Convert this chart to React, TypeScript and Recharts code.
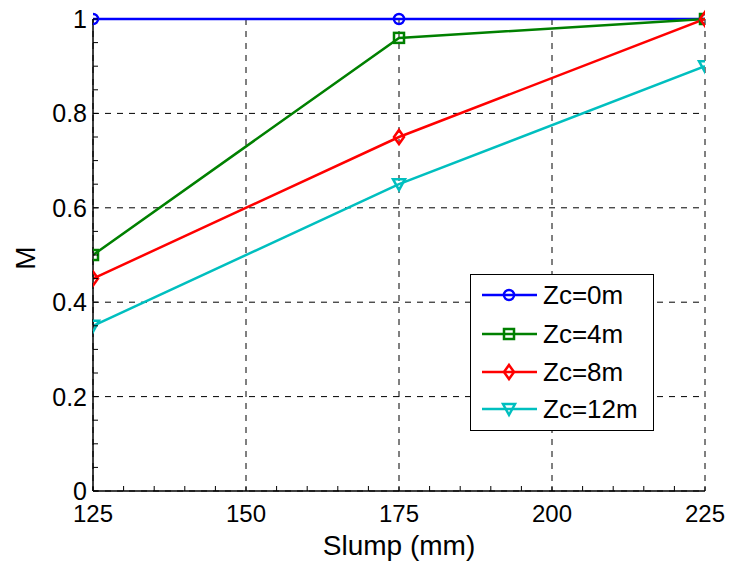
import React from "react";
import {
  LineChart,
  Line,
  XAxis,
  YAxis,
  CartesianGrid,
} from "recharts";

const slump = [125, 175, 225];
const zc0 = [1, 1, 1];
const zc4 = [0.5, 0.96, 1];
const zc8 = [0.45, 0.75, 1];
const zc12 = [0.35, 0.65, 0.9];

const seriesNames = ["Zc=0m", "Zc=4m", "Zc=8m", "Zc=12m"];
const seriesColors = ["#0000ff", "#008000", "#ff0000", "#00bfbf"];
const seriesShapes = ["circle", "square", "diamond", "triangle"];

const xMajor = [125, 150, 175, 200, 225];
const yMajor = [0, 0.2, 0.4, 0.6, 0.8, 1];
const xMinor = Array.from({ length: 21 }, (_, i) => 125 + i * 5);
const yMinor = Array.from({ length: 21 }, (_, i) => Math.round(i * 5) / 100);

const data = slump.map((s, i) => ({
  slump: s,
  zc0: zc0[i],
  zc4: zc4[i],
  zc8: zc8[i],
  zc12: zc12[i],
}));

const keys = ["zc0", "zc4", "zc8", "zc12"];
const FONT = "'Liberation Sans', Arial, sans-serif";

function Marker({ shape, cx, cy, color }: { shape: string; cx: number; cy: number; color: string }) {
  const sw = 2.5;
  if (shape === "circle") {
    return <circle cx={cx} cy={cy} r={5} fill="none" stroke={color} strokeWidth={sw} />;
  }
  if (shape === "square") {
    return <rect x={cx - 5} y={cy - 5} width={10} height={10} fill="none" stroke={color} strokeWidth={sw} />;
  }
  if (shape === "diamond") {
    return (
      <polygon
        points={`${cx},${cy - 7} ${cx + 5},${cy} ${cx},${cy + 7} ${cx - 5},${cy}`}
        fill="none"
        stroke={color}
        strokeWidth={sw}
      />
    );
  }
  return (
    <polygon
      points={`${cx - 6},${cy - 5} ${cx + 6},${cy - 5} ${cx},${cy + 6}`}
      fill="none"
      stroke={color}
      strokeWidth={sw}
    />
  );
}

const fmtY = (v: number) => (v === 0 || v === 1 ? String(v) : v.toFixed(1));
const isMajorX = (v: number) => xMajor.includes(v);
const isMajorY = (v: number) => yMajor.some((m) => Math.abs(m - v) < 1e-9);

const BottomTick = (props: any) => {
  const { x, y, payload } = props;
  const v = payload.value;
  return (
    <g>
      <line x1={x} x2={x} y1={y} y2={y - 5} stroke="#000" strokeWidth={1} />
      {isMajorX(v) && (
        <text x={x} y={y + 31} textAnchor="middle" fontSize={24} fontFamily={FONT} fill="#000">
          {v}
        </text>
      )}
    </g>
  );
};

const TopTick = (props: any) => {
  const { x, y } = props;
  return <line x1={x} x2={x} y1={y} y2={y + 5} stroke="#000" strokeWidth={1} />;
};

const LeftTick = (props: any) => {
  const { x, y, payload } = props;
  const v = payload.value;
  return (
    <g>
      <line x1={x} x2={x + 5} y1={y} y2={y} stroke="#000" strokeWidth={1} />
      {isMajorY(v) && (
        <text x={x - 6} y={y + 9} textAnchor="end" fontSize={25} fontFamily={FONT} fill="#000">
          {fmtY(v)}
        </text>
      )}
    </g>
  );
};

const RightTick = (props: any) => {
  const { x, y } = props;
  return <line x1={x} x2={x - 5} y1={y} y2={y} stroke="#000" strokeWidth={1} />;
};

const LegendBox = () => (
  <svg width={185} height={158} style={{ display: "block" }}>
    <rect x={0.5} y={0.5} width={183} height={156} fill="#fff" stroke="#000" strokeWidth={1} />
    {seriesNames.map((name, i) => {
      const cy = [21, 60, 98, 135][i];
      return (
        <g key={name}>
          <line x1={12} x2={67} y1={cy} y2={cy} stroke={seriesColors[i]} strokeWidth={2.5} />
          <Marker shape={seriesShapes[i]} cx={39} cy={cy} color={seriesColors[i]} />
          <text x={73} y={cy + 9} fontSize={26} fontFamily={FONT} fill="#000">
            {name}
          </text>
        </g>
      );
    })}
  </svg>
);

export default function App() {
  return (
    <div style={{ position: "fixed", left: 0, top: 0, width: 730, height: 565, background: "#fff" }}>
      <LineChart
        width={730}
        height={565}
        data={data}
        margin={{ top: 19, right: 25, bottom: 0, left: 0 }}
        style={{ overflow: "visible" }}
      >
        <CartesianGrid
          xAxisId="b"
          yAxisId="l"
          stroke="#000"
          strokeDasharray="6 6"
          horizontalValues={yMajor}
          verticalValues={xMajor}
        />
        <XAxis
          xAxisId="b"
          dataKey="slump"
          type="number"
          domain={[125, 225]}
          ticks={xMinor}
          interval={0}
          height={74}
          tickSize={0}
          tickMargin={0}
          tickLine={false}
          axisLine={{ stroke: "#000", strokeWidth: 1.5 }}
          tick={<BottomTick />}
          allowDataOverflow
        />
        <XAxis
          xAxisId="t"
          orientation="top"
          dataKey="slump"
          type="number"
          domain={[125, 225]}
          ticks={xMinor}
          interval={0}
          height={0}
          tickSize={0}
          tickMargin={0}
          tickLine={false}
          axisLine={{ stroke: "#000", strokeWidth: 1.5 }}
          tick={<TopTick />}
        />
        <YAxis
          yAxisId="l"
          type="number"
          domain={[0, 1]}
          ticks={yMinor}
          interval={0}
          width={93}
          tickSize={0}
          tickMargin={0}
          tickLine={false}
          axisLine={{ stroke: "#000", strokeWidth: 1.5 }}
          tick={<LeftTick />}
        />
        <YAxis
          yAxisId="r"
          orientation="right"
          type="number"
          domain={[0, 1]}
          ticks={yMinor}
          interval={0}
          width={0}
          tickSize={0}
          tickMargin={0}
          tickLine={false}
          axisLine={{ stroke: "#000", strokeWidth: 1.5 }}
          tick={<RightTick />}
        />
        {keys.map((k, i) => (
          <Line
            key={k}
            xAxisId="b"
            yAxisId="l"
            dataKey={k}
            name={seriesNames[i]}
            stroke={seriesColors[i]}
            strokeWidth={2.5}
            isAnimationActive={false}
            dot={(p: any) => (
              <Marker key={`${k}-${p.index}`} shape={seriesShapes[i]} cx={p.cx} cy={p.cy} color={seriesColors[i]} />
            )}
            activeDot={false}
          />
        ))}
        <text x={399} y={555} textAnchor="middle" fontSize={28} fontFamily={FONT} fill="#000">
          Slump (mm)
        </text>
        <text x={35} y={258} textAnchor="middle" fontSize={28} fontFamily={FONT} fill="#000"
          transform="rotate(-90 35 258)">
          M
        </text>
      </LineChart>
      <div style={{ position: "absolute", left: 470, top: 274 }}>
        <LegendBox />
      </div>
    </div>
  );
}
